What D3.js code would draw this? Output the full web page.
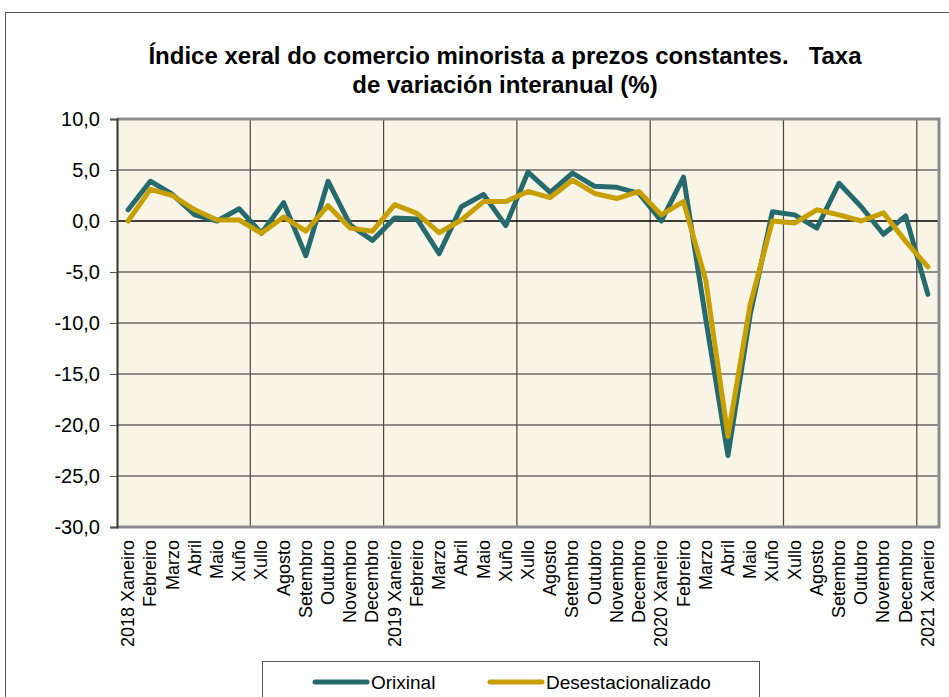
<!DOCTYPE html>
<html>
<head>
<meta charset="utf-8">
<script src="https://cdn.jsdelivr.net/npm/d3@7"></script>
<style>
  body { margin: 0; background: #fff; }
  text { font-family: "Liberation Sans", Arial, sans-serif; fill: #000; }
</style>
</head>
<body>
<div id="chart"></div>
<script>
// months of the series, 2018 Xaneiro .. 2021 Xaneiro
var meses = ["Xaneiro", "Febreiro", "Marzo", "Abril", "Maio", "Xuño",
             "Xullo", "Agosto", "Setembro", "Outubro", "Novembro", "Decembro"];
var categorias = [];
[2018, 2019, 2020].forEach(function (ano) {
  meses.forEach(function (m, i) { categorias.push(i === 0 ? ano + " " + m : m); });
});
categorias.push("2021 Xaneiro");

var orixinal = [1.1, 3.9, 2.6, 0.6, 0.0, 1.2, -1.2, 1.8, -3.4, 3.9, -0.4, -1.9,
                0.3, 0.2, -3.2, 1.4, 2.6, -0.45, 4.8, 2.8, 4.7, 3.4, 3.3, 2.7,
                0.0, 4.3, -9.6, -23.0, -9.2, 0.9, 0.6, -0.7, 3.7, 1.4, -1.3, 0.5,
                -7.2];
var desestacionalizado = [0.0, 3.1, 2.5, 1.1, 0.1, 0.1, -1.2, 0.4, -1.0, 1.5, -0.7, -1.0,
                1.6, 0.75, -1.15, 0.1, 1.9, 1.9, 2.9, 2.3, 4.0, 2.7, 2.2, 2.9,
                0.6, 1.9, -5.8, -21.1, -8.2, 0.0, -0.2, 1.1, 0.6, 0.0, 0.8, -2.0,
                -4.5];
var yTicks = [10, 5, 0, -5, -10, -15, -20, -25, -30];

var series = [
  { name: "Orixinal", values: orixinal, color: "#276a6d" },
  { name: "Desestacionalizado", values: desestacionalizado, color: "#c8a004" }
];

var cfg = { width: 949, height: 697, left: 117, right: 939, top: 119, bottom: 527 };

var svg = d3.select("#chart").append("svg")
    .attr("width", cfg.width)
    .attr("height", cfg.height);

// outer chart frame
svg.append("rect")
    .attr("x", 5.5).attr("y", 12.5)
    .attr("width", 960).attr("height", 720)
    .style("fill", "#fff").style("stroke", "#555").style("stroke-width", 1);

var title = svg.append("text")
    .attr("text-anchor", "middle")
    .style("white-space", "pre")
    .style("font-size", "24px").style("font-weight", "bold");
title.append("tspan").attr("x", 505).attr("y", 64)
    .text("Índice xeral do comercio minorista a prezos constantes.   Taxa");
title.append("tspan").attr("x", 505).attr("y", 93)
    .text("de variación interanual (%)");

var x = d3.scaleBand()
    .domain(d3.range(categorias.length))
    .range([cfg.left, cfg.right])
    .padding(0);

var y = d3.scaleLinear()
    .domain([-30, 10])
    .range([cfg.bottom, cfg.top]);

// plot background
svg.append("rect")
    .attr("x", cfg.left).attr("y", cfg.top)
    .attr("width", cfg.right - cfg.left).attr("height", cfg.bottom - cfg.top)
    .style("fill", "#f8f4e6");

// horizontal gridlines
svg.selectAll(".hgrid")
    .data(yTicks.filter(function (d) { return d !== 0; })).enter()
    .append("line")
    .attr("x1", cfg.left).attr("x2", cfg.right)
    .attr("y1", function (d) { return y(d); })
    .attr("y2", function (d) { return y(d); })
    .style("stroke", "#6e6a64").style("stroke-width", 1.5);

// vertical gridlines every 6 months
svg.selectAll(".vgrid")
    .data(d3.range(6, categorias.length, 6)).enter()
    .append("line")
    .attr("x1", function (d) { return x(d); })
    .attr("x2", function (d) { return x(d); })
    .attr("y1", cfg.top).attr("y2", cfg.bottom)
    .style("stroke", "#4a4743").style("stroke-width", 1.2);

// zero line
svg.append("line")
    .attr("x1", cfg.left).attr("x2", cfg.right)
    .attr("y1", y(0)).attr("y2", y(0))
    .style("stroke", "#000").style("stroke-width", 1.3);

// plot border
svg.append("path")
    .attr("d", "M" + cfg.left + "," + cfg.top + "H" + cfg.right + "V" + cfg.bottom + "H" + cfg.left)
    .style("fill", "none").style("stroke", "#8c8c8c").style("stroke-width", 3);

// y axis
var yAxis = svg.append("g")
    .attr("transform", "translate(" + cfg.left + ",0)")
    .call(d3.axisLeft(y).tickValues(yTicks).tickSize(7).tickPadding(10)
      .tickFormat(function (d) { return d.toFixed(1).replace(".", ","); }));
yAxis.select(".domain").style("stroke", "#333").style("stroke-width", 2);
yAxis.selectAll(".tick line").style("stroke", "#555");
yAxis.selectAll("text").style("font-size", "20px").style("font-family", "Liberation Sans, Arial, sans-serif");

// x labels (rotated)
svg.selectAll(".xlabel")
    .data(categorias).enter()
    .append("text")
    .attr("class", "xlabel")
    .attr("text-anchor", "end")
    .attr("transform", function (d, i) {
      return "translate(" + (x(i) + x.bandwidth() / 2 + 6) + "," + (cfg.bottom + 13) + ") rotate(-90)";
    })
    .style("font-size", "18px")
    .text(function (d) { return d; });

// lines
var line = d3.line()
    .x(function (d, i) { return x(i) + x.bandwidth() / 2; })
    .y(function (d) { return y(d); });

svg.selectAll(".serie")
    .data(series).enter()
    .append("path")
    .attr("d", function (d) { return line(d.values); })
    .style("fill", "none")
    .style("stroke", function (d) { return d.color; })
    .style("stroke-width", 5)
    .style("stroke-linejoin", "round")
    .style("stroke-linecap", "round");

// legend
svg.append("rect")
    .attr("x", 262.5).attr("y", 661.5)
    .attr("width", 497).attr("height", 60)
    .style("fill", "#fff").style("stroke", "#555").style("stroke-width", 1);

var legendX = [315, 490];
var leg = svg.selectAll(".legend")
    .data(series).enter()
    .append("g")
    .attr("transform", function (d, i) { return "translate(" + legendX[i] + ",682)"; });
leg.append("line")
    .attr("x1", 0).attr("x2", 52)
    .style("stroke", function (d) { return d.color; })
    .style("stroke-width", 5)
    .style("stroke-linecap", "round");
leg.append("text")
    .attr("x", 56).attr("y", 7)
    .style("font-size", "19px")
    .text(function (d) { return d.name; });
</script>
</body>
</html>
